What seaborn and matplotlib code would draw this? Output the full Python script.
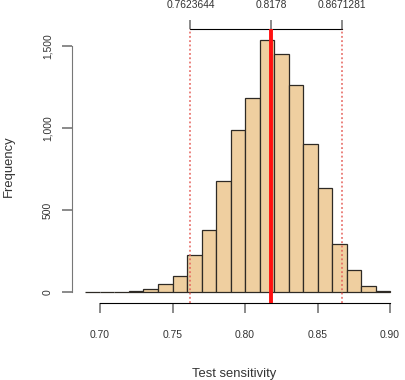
import numpy as np
import seaborn as sns
import matplotlib.pyplot as plt

# Bootstrap distribution of test sensitivity (bin width 0.01)
bin_left = [0.69, 0.70, 0.71, 0.72, 0.73, 0.74, 0.75, 0.76, 0.77, 0.78, 0.79,
            0.80, 0.81, 0.82, 0.83, 0.84, 0.85, 0.86, 0.87, 0.88, 0.89]
counts = [0, 0, 0, 6, 20, 51, 100, 228, 380, 679, 990,
          1185, 1539, 1453, 1264, 904, 636, 295, 132, 35, 6]
bin_edges = [round(0.69 + 0.01 * i, 2) for i in range(22)]

estimate = 0.8178
ci_low, ci_high = 0.7623644, 0.8671281
top_labels = ['0.7623644', '0.8178', '0.8671281']
x_ticks = [0.70, 0.75, 0.80, 0.85, 0.90]
y_ticks = [0, 500, 1000, 1500]
y_labels = ['0', '500', '1,000', '1,500']

sns.set_style('white')
plt.rcParams['font.family'] = ['Liberation Sans', 'DejaVu Sans']

fig = plt.figure(figsize=(4.05, 3.8), dpi=100)
ax = fig.add_axes([72 / 405, 1 - 303 / 380, 325 / 405, 274 / 380])

sns.histplot(x=bin_left, weights=counts, bins=bin_edges, stat='count',
             color='#EFCFA0', alpha=1, edgecolor='#2e2a25', linewidth=0.9, ax=ax)

ax.set_xlim(0.6807, 0.9048)
ax.set_ylim(-67, 1604)

# CI and point estimate
for v in (ci_low, ci_high):
    ax.axvline(v, color='#e5605a', linestyle=(0, (1.2, 1.6)), linewidth=1.1, zorder=3)
ax.axvline(estimate, color='#ff1010', linewidth=2.8, zorder=4)

# axes styling (R base-graphics look)
for s in ax.spines.values():
    s.set_visible(False)
ax.spines['bottom'].set_visible(True)
ax.spines['bottom'].set_bounds(0.70, 0.90)
ax.spines['bottom'].set_color('black')
ax.spines['left'].set_visible(True)
ax.spines['left'].set_bounds(0, 1500)
ax.spines['left'].set_color('#777777')

ax.set_xticks(x_ticks)
ax.set_xticklabels(['%.2f' % t for t in x_ticks])
ax.set_yticks(y_ticks)
ax.set_yticklabels(y_labels, rotation=90, va='center')
ax.tick_params(axis='x', bottom=True, length=7, width=1.2, color='#777777',
               pad=12.5, labelsize=7.4, labelcolor='#333333')
ax.tick_params(axis='y', left=True, length=7, width=1.2, color='#777777',
               pad=7, labelsize=7.4, labelcolor='#333333')

# top bracket axis with CI limits
top = ax.secondary_xaxis('top')
top.set_xticks([ci_low, estimate, ci_high])
top.set_xticklabels(top_labels)
top.spines['top'].set_bounds(ci_low, ci_high)
top.spines['top'].set_color('black')
top.tick_params(length=6.5, width=1.2, color='#777777', pad=7.5,
                labelsize=7.4, labelcolor='#333333')

ax.set_xlabel('Test sensitivity', fontsize=9.4, color='#333333', labelpad=20)
ax.set_ylabel('Frequency', fontsize=9.4, color='#333333', labelpad=20)

fig.savefig('out.png', dpi=100)
